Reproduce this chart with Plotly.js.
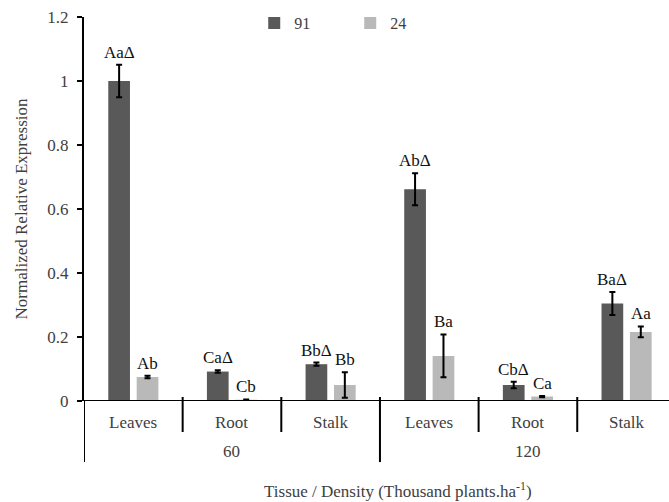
<!DOCTYPE html>
<html>
<head>
<meta charset="utf-8">
<script src="https://cdn.plot.ly/plotly-3.0.1.min.js"></script>
<style>html,body{margin:0;padding:0;background:#fff;}#chart{width:669px;height:502px;}</style>
</head>
<body>
<div id="chart"></div>
<script>
// ---- data ----
const densities = ["60", "120"];
const tissues = ["Leaves", "Root", "Stalk"];
const seriesNames = ["91", "24"];
const values91 = [1.0, 0.092, 0.115, 0.662, 0.050, 0.305];
const errors91 = [0.051, 0.004, 0.005, 0.050, 0.010, 0.036];
const values24 = [0.075, 0.004, 0.050, 0.141, 0.014, 0.216];
const errors24 = [0.004, 0.001, 0.040, 0.067, 0.002, 0.017];
const labels91 = ["AaΔ", "CaΔ", "BbΔ", "AbΔ", "CbΔ", "BaΔ"];
const labels24 = ["Ab", "Cb", "Bb", "Ba", "Ca", "Aa"];
const yTicks = [0, 0.2, 0.4, 0.6, 0.8, 1, 1.2];

// ---- build ----
const cats = [];
densities.forEach(d => tissues.forEach(t => cats.push(d + " " + t)));

const FONT = "Liberation Serif, Times New Roman, serif";
const AXC = "#404040";
const BARGAP = 0.424;
const colors = ["#595959", "#b9b9b9"];
const vals = [values91, values24];
const errs = [errors91, errors24];
const labs = [labels91, labels24];

const traces = seriesNames.map((n, s) => ({
  type: "bar", name: n, x: cats, y: vals[s],
  marker: {color: colors[s]},
  error_y: {type: "data", array: errs[s], visible: true, color: "#000", thickness: 2, width: 3},
  hoverinfo: "x+y"
}));

const annotations = [];
const off = (1 - BARGAP) / 4;
labs.forEach((arr, s) => arr.forEach((t, i) => {
  annotations.push({xref: "x", yref: "y", x: i + (s === 0 ? -off : off), y: vals[s][i] + errs[s][i],
    text: t, showarrow: false, yanchor: "bottom", yshift: 1, font: {family: FONT, size: 17, color: "#111"}});
}));
cats.forEach((c, i) => {
  annotations.push({xref: "x", yref: "paper", x: i, y: -0.0547, text: tissues[i % tissues.length],
    showarrow: false, yanchor: "middle", font: {family: FONT, size: 17, color: AXC}});
});
densities.forEach((d, g) => {
  annotations.push({xref: "x", yref: "paper", x: g * tissues.length + (tissues.length - 1) / 2, y: -0.1328, text: d,
    showarrow: false, yanchor: "middle", font: {family: FONT, size: 17, color: AXC}});
});
annotations.push({xref: "paper", yref: "paper", x: 0.537, y: -0.232, text: "Tissue / Density (Thousand plants.ha<sup>-1</sup>)",
  showarrow: false, xanchor: "center", yanchor: "middle", font: {family: FONT, size: 17, color: AXC}});

const shapes = [];
for (let k = 0; k < cats.length; k++) {
  const isGroup = k % tissues.length === 0;
  shapes.push({type: "line", xref: "x", yref: "paper", x0: k - 0.5, x1: k - 0.5,
    y0: k === 0 ? 0 : 0.0104, y1: isGroup ? -0.159 : -0.0807, line: {color: "#000", width: 2}});
}
shapes.push({type: "line", xref: "paper", yref: "y", x0: -0.012, x1: 1, y0: 0, y1: 0, line: {color: "#000", width: 2}});

const layout = {
  width: 669, height: 502,
  margin: {l: 84, r: 0, t: 17, b: 101, pad: 0},
  paper_bgcolor: "#fff", plot_bgcolor: "#fff",
  barmode: "group", bargap: BARGAP, bargroupgap: 0.236,
  font: {family: FONT, color: AXC},
  showlegend: true,
  legend: {orientation: "h", x: 0.291, xanchor: "left", y: 0.984, yanchor: "middle",
    font: {family: FONT, size: 16, color: AXC}, entrywidth: 51, entrywidthmode: "pixels",
    bgcolor: "rgba(0,0,0,0)", traceorder: "normal"},
  xaxis: {type: "category", categoryorder: "array", categoryarray: cats, range: [-0.5, 5.43],
    showticklabels: false, ticks: "", showline: false, showgrid: false, zeroline: false, fixedrange: true},
  yaxis: {range: [0, 1.2], tickvals: yTicks, ticks: "outside", ticklen: 5, tickwidth: 2, tickcolor: "#000",
    showline: true, linewidth: 2, linecolor: "#000", showgrid: false, zeroline: false, ticklabelstandoff: 5,
    tickfont: {family: FONT, size: 17, color: AXC},
    title: {text: "Normalized Relative Expression", font: {family: FONT, size: 17, color: AXC}, standoff: 15}},
  yaxis2: {overlaying: "y", side: "left", range: [0, 1.2], tickvals: yTicks, ticks: "inside", ticklen: 5, tickwidth: 2,
    tickcolor: "#000", showticklabels: false, showline: false, showgrid: false, zeroline: false},
  annotations: annotations,
  shapes: shapes
};

Plotly.newPlot("chart", traces, layout, {displayModeBar: false, staticPlot: true});
</script>
</body>
</html>
